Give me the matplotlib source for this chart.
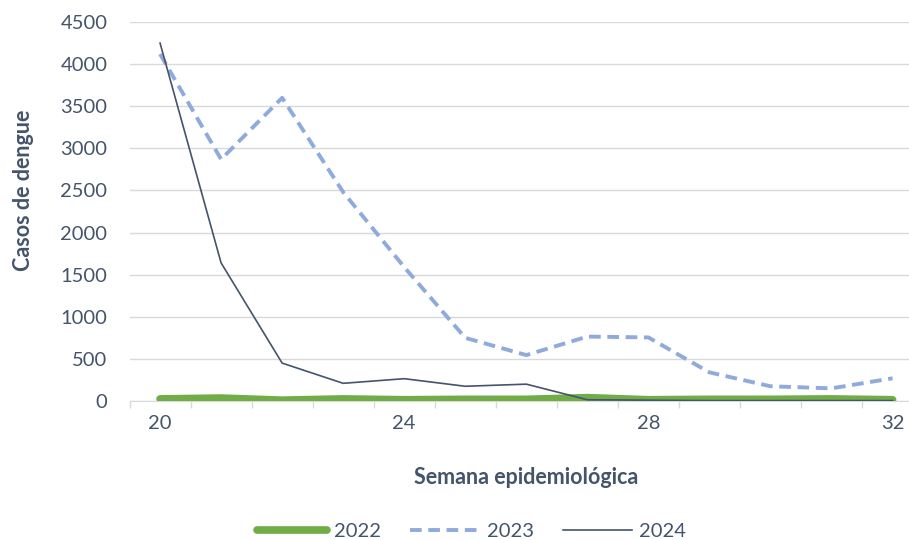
import numpy as np
import matplotlib.pyplot as plt
from matplotlib.ticker import MultipleLocator

plt.rcParams['font.family'] = ['Lato', 'DejaVu Sans']

semanas = list(range(20, 33))
casos_2022 = [25, 35, 10, 25, 15, 20, 20, 40, 15, 20, 20, 25, 15]
casos_2023 = [4120, 2870, 3600, 2480, 1590, 750, 545, 765, 755, 340, 175, 150, 270]
casos_2024 = [4250, 1640, 450, 210, 265, 175, 200, 15, 10, 5, 5, 5, 5]
xticks = [20, 24, 28, 32]

txt = '#44546A'

fig = plt.figure(figsize=(9.09, 5.4), dpi=100)
ax = fig.add_axes([0.1425, 0.2574, 0.873, 0.7018])

ax.plot(semanas, casos_2022, color='#70AD47', lw=5.5, solid_capstyle='round',
        solid_joinstyle='round', label='2022', zorder=3)
ax.plot(semanas, casos_2023, color='#8FAADC', lw=2.8, dashes=(3, 1.7),
        dash_joinstyle='round', label='2023', zorder=4)
ax.plot(semanas, casos_2024, color='#44546A', lw=1.2, label='2024', zorder=5)

ax.set_xlim(19.5, 32.5)
ax.set_ylim(0, 4500)
ax.yaxis.set_major_locator(MultipleLocator(500))
ax.grid(axis='y', color='#D9D9D9', lw=1)
ax.set_axisbelow(True)

ax.set_xticks(xticks)
ax.set_xticklabels([str(v) for v in xticks])
ax.set_xticks(np.arange(19.5, 33, 1), minor=True)
ax.tick_params(axis='x', which='major', length=0, pad=10, labelsize=14.5, labelcolor=txt)
ax.tick_params(axis='x', which='minor', length=5, color='#D9D9D9', width=1)
ax.tick_params(axis='y', length=0, pad=16, labelsize=14.5, labelcolor=txt)

for s in ['left', 'right', 'top']:
    ax.spines[s].set_visible(False)
ax.spines['bottom'].set_color('#D9D9D9')

ax.set_ylabel('Casos de dengue', fontsize=15.5, fontweight='bold', color=txt)
ax.yaxis.set_label_coords(-0.121, 0.557)
ax.set_xlabel('Semana epidemiológica', fontsize=15.5, fontweight='bold', color=txt, labelpad=25)

fig.legend(loc='lower center', bbox_to_anchor=(0.519, -0.034), ncol=3, frameon=False,
           fontsize=14.5, labelcolor=txt, handlelength=3.45, columnspacing=1.45,
           handletextpad=0.35)

fig.savefig('out.png', dpi=100)
